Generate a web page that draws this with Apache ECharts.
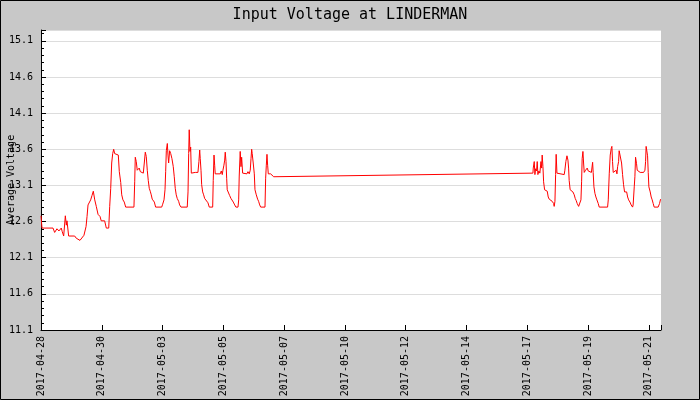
<!DOCTYPE html>
<html>
<head>
<meta charset="utf-8">
<script src="https://cdn.jsdelivr.net/npm/echarts@6/dist/echarts.min.js"></script>
<style>
	html, body { margin: 0; padding: 0; background: #c8c8c8; }
	#main { width: 700px; height: 400px; }
</style>
</head>
<body>
<div id="main"></div>
<script>
// x axis labels, one every 55.2 h (2.3 days)
var tickLabels = ['2017-04-28', '2017-04-30', '2017-05-03', '2017-05-05', '2017-05-07', '2017-05-10',
	'2017-05-12', '2017-05-14', '2017-05-17', '2017-05-19', '2017-05-21'];
var tickStep = 55.2;
var xMax = 563;

// hours since first tick
var hours = [
	0, 0.9, 10.9, 12.4, 14.5, 16.3, 18.4, 19.3, 20.6, 22.1, 23.0, 23.6, 25.1, 30.6, 32.0, 33.6, 35.4, 37.2, 39.0, 40.9,
	41.8, 42.7, 43.6, 44.2, 45.1, 46.3, 47.5, 48.8, 50.2, 51.8, 53.6, 54.7, 57.8, 59.3, 61.5, 62.4, 63.3, 64.2, 65.1, 66.0,
	66.9, 68.1, 70.2, 71.1, 72.4, 73.3, 74.4, 75.6, 76.9, 84.4, 85.1, 85.6, 86.5, 87.4, 88.3, 89.2, 90.2, 91.4, 92.9, 93.8,
	94.7, 95.6, 96.5, 97.4, 98.3, 99.2, 100.1, 101.0, 102.9, 104.1, 109.6, 110.5, 111.7, 112.6, 113.2, 113.8, 114.7, 115.3, 115.9, 116.8,
	117.8, 118.9, 120.1, 121.0, 121.9, 122.8, 123.7, 125.0, 125.9, 127.1, 132.8, 133.5, 134.1, 134.6, 135.3, 135.9, 136.5, 138.3, 140.1, 142.5,
	143.4, 144.1, 144.6, 145.3, 145.9, 146.8, 147.7, 148.6, 149.2, 150.4, 151.6, 152.8, 155.9, 156.4, 157.1, 157.7, 158.2, 162.8, 163.7, 164.6,
	165.2, 166.1, 166.8, 167.3, 168.0, 168.6, 169.1, 170.4, 171.3, 172.5, 173.4, 174.6, 175.9, 177.0, 178.9, 179.5, 180.0, 180.9, 181.6, 182.2,
	183.1, 184.3, 187.0, 187.9, 189.1, 190.0, 190.7, 191.3, 191.8, 192.7, 193.7, 194.3, 195.5, 196.7, 197.6, 198.6, 199.5, 203.4, 204.0, 204.6,
	205.2, 205.8, 206.4, 207.3, 208.5, 209.7, 211.3, 212.4,
	446.7, 447.0, 447.9, 448.5, 449.1, 450.0, 450.6, 451.2, 452.1, 453.0, 454.0, 454.6, 455.1, 455.8, 456.4, 457.3, 458.2, 459.7,
	460.6, 461.5, 463.0, 464.2, 465.5, 466.0, 466.7, 467.3, 467.8, 468.5, 469.7, 475.1, 475.7, 476.6, 477.6, 478.5, 479.1, 479.6, 480.5, 481.2,
	483.0, 484.2, 485.1, 486.0, 486.9, 488.2, 489.4, 490.3, 490.9, 491.4, 492.1, 492.7, 493.3, 494.5, 496.0, 496.9, 498.7, 499.8, 500.9, 501.4,
	502.1, 503.0, 503.9, 504.8, 506.0, 506.9, 514.5, 515.1, 516.0, 516.9, 517.8, 518.4, 519.0, 519.6, 520.5, 521.4, 522.3, 523.0, 523.6, 524.5,
	525.0, 525.9, 526.6, 527.2, 528.1, 529.0, 529.9, 531.8, 532.7, 533.6, 534.8, 535.9, 537.2, 537.7, 538.7, 539.3, 539.9, 540.8, 541.4, 542.9,
	544.1, 545.9, 547.2, 548.4, 549.0, 549.5, 550.2, 550.8, 551.4, 552.0, 553.2, 554.1, 555.0, 555.9, 556.8, 560.4, 561.7, 562.6
];

// average voltage
var volts = [
	12.68, 12.51, 12.51, 12.45, 12.50, 12.47, 12.51, 12.46, 12.40, 12.68, 12.55, 12.61, 12.40, 12.40, 12.37, 12.36, 12.34, 12.36, 12.41, 12.53,
	12.67, 12.83, 12.85, 12.83, 12.90, 12.96, 13.02, 12.90, 12.81, 12.70, 12.67, 12.61, 12.61, 12.51, 12.51, 12.81, 13.06, 13.41, 13.54, 13.60,
	13.54, 13.52, 13.52, 13.29, 13.14, 12.97, 12.90, 12.87, 12.80, 12.80, 13.15, 13.49, 13.43, 13.31, 13.33, 13.34, 13.29, 13.30, 13.27, 13.41,
	13.56, 13.50, 13.31, 13.17, 13.06, 13.02, 12.97, 12.91, 12.87, 12.80, 12.80, 12.84, 12.90, 13.04, 13.29, 13.58, 13.68, 13.52, 13.41, 13.58,
	13.54, 13.47, 13.36, 13.22, 13.06, 12.97, 12.92, 12.88, 12.83, 12.80, 12.80, 13.01, 13.54, 13.87, 13.57, 13.63, 13.27, 13.26, 13.28, 13.28,
	13.43, 13.59, 13.47, 13.31, 13.11, 13.01, 12.97, 12.92, 12.90, 12.90, 12.86, 12.80, 12.80, 13.17, 13.52, 13.38, 13.26, 13.26, 13.30, 13.25,
	13.31, 13.38, 13.45, 13.56, 13.43, 13.20, 13.04, 13.02, 12.96, 12.92, 12.90, 12.87, 12.83, 12.80, 12.80, 12.90, 13.23, 13.57, 13.36, 13.49,
	13.27, 13.26, 13.26, 13.29, 13.26, 13.31, 13.47, 13.60, 13.54, 13.41, 13.26, 13.04, 12.97, 12.91, 12.88, 12.83, 12.80, 12.80, 13.20, 13.38,
	13.53, 13.38, 13.26, 13.28, 13.26, 13.27, 13.22, 13.20,
	13.27, 13.34, 13.43, 13.25, 13.33, 13.30, 13.43, 13.25, 13.30, 13.27, 13.43, 13.34, 13.52, 13.36, 13.15, 13.04, 13.02, 13.02,
	12.94, 12.91, 12.90, 12.88, 12.85, 12.81, 12.88, 13.25, 13.53, 13.27, 13.25, 13.25, 13.31, 13.43, 13.51, 13.45, 13.34, 13.17, 13.04, 13.02,
	13.01, 12.97, 12.92, 12.89, 12.85, 12.81, 12.82, 12.90, 13.15, 13.47, 13.57, 13.41, 13.28, 13.31, 13.34, 13.30, 13.28, 13.28, 13.42, 13.28,
	13.08, 12.99, 12.94, 12.90, 12.85, 12.80, 12.80, 12.90, 13.26, 13.52, 13.61, 13.64, 13.43, 13.28, 13.29, 13.27, 13.31, 13.26, 13.36, 13.43,
	13.58, 13.60, 13.56, 13.41, 13.25, 13.11, 13.01, 13.01, 12.94, 12.90, 12.87, 12.83, 12.80, 12.83, 13.08, 13.22, 13.49, 13.40, 13.31, 13.30,
	13.28, 13.26, 13.28, 13.31, 13.43, 13.64, 13.66, 13.51, 13.28, 13.08, 13.01, 12.94, 12.90, 12.85, 12.80, 12.80, 12.85, 12.91
];

var yMin = 11.1, yMax = 15.25, yStep = 0.5, yMinorStep = 0.1;

var font = 'DejaVu Sans Mono';
var chart = echarts.init(document.getElementById('main'));

var seriesData = [];
for (var i = 0; i < hours.length; i++) {
	seriesData.push([hours[i], volts[i]]);
}

var option = {
	backgroundColor: '#c8c8c8',
	animation: false,
	title: {
		text: 'Input Voltage at LINDERMAN',
		left: 'center',
		top: 3,
		textStyle: { fontFamily: font, fontSize: 15, fontWeight: 'normal', color: '#000' }
	},
	grid: {
		left: 41, right: 39, top: 30, bottom: 70,
		outerBoundsMode: 'none',
		containLabel: false,
		show: true, backgroundColor: '#fff', borderWidth: 0
	},
	xAxis: {
		type: 'value',
		min: 0,
		max: xMax,
		interval: tickStep,
		axisLine: { lineStyle: { color: '#000', width: 1 } },
		axisTick: { inside: true, length: 5, lineStyle: { color: '#000' } },
		splitLine: { show: false },
		axisLabel: {
			rotate: 90,
			margin: 6,
			fontFamily: font,
			fontSize: 10,
			color: '#000',
			formatter: function (v) {
				var k = Math.round(v / tickStep);
				if (Math.abs(v - k * tickStep) > 0.01) return '';
				return tickLabels[k] || '';
			}
		}
	},
	yAxis: [{
		type: 'value',
		min: yMin,
		max: yMax,
		interval: yStep,
		name: 'Average Voltage',
		nameLocation: 'middle',
		nameGap: 25,
		nameMoveOverlap: false,
		nameTextStyle: { fontFamily: font, fontSize: 10, color: '#000' },
		axisLine: { show: true, lineStyle: { color: '#000', width: 1 } },
		axisTick: { inside: true, length: 5, lineStyle: { color: '#000' } },
		splitLine: { lineStyle: { color: '#dddddd', width: 1 } },
		axisLabel: {
			margin: 8,
			fontFamily: font,
			fontSize: 10,
			color: '#000',
			formatter: function (v) {
				var k = Math.round((v - yMin) / yStep);
				if (Math.abs(v - yMin - k * yStep) > 0.001) return '';
				return v.toFixed(1);
			}
		}
	}, {
		// minor ticks only
		type: 'value',
		position: 'left',
		min: yMin,
		max: yMax,
		interval: yMinorStep,
		axisLine: { show: false },
		axisTick: { inside: true, length: 3, lineStyle: { color: '#000' } },
		axisLabel: { show: false },
		splitLine: { show: false }
	}],
	graphic: [{
		type: 'rect',
		shape: { x: 0.5, y: 0.5, width: 699, height: 399 },
		style: { fill: null, stroke: '#000', lineWidth: 1 },
		silent: true
	}],
	series: [{
		type: 'line',
		data: seriesData,
		showSymbol: false,
		symbol: 'none',
		lineStyle: { color: '#ff0000', width: 1 },
		itemStyle: { color: '#ff0000' }
	}]
};
chart.setOption(option);
</script>
</body>
</html>
